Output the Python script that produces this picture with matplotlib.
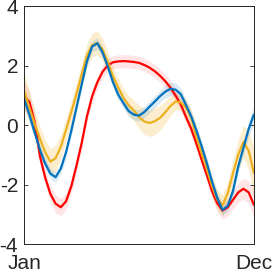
import numpy as np
import matplotlib
matplotlib.use("Agg")
import matplotlib.pyplot as plt

plt.rcParams['font.family'] = ['Liberation Sans', 'DejaVu Sans']
plt.rcParams['axes.unicode_minus'] = False

# month position (Jan = 1 ... Dec = 12), sampled every quarter month
month = [1 + 0.25 * k for k in range(45)]

red = [0.98, 0.78, 0.10, -1.04, -1.75, -2.30, -2.63, -2.75, -2.55, -2.05,
       -1.35, -0.59, 0.30, 0.98, 1.45, 1.80, 2.02, 2.12, 2.15, 2.16,
       2.15, 2.13, 2.10, 2.03, 1.94, 1.82, 1.67, 1.49, 1.27, 1.00,
       0.70, 0.28, -0.12, -0.62, -1.16, -1.68, -2.22, -2.62, -2.86, -2.75,
       -2.50, -2.25, -2.13, -2.25, -2.67]

orange = [1.14, 0.58, 0.05, -0.45, -0.90, -1.22, -1.10, -0.72, -0.15, 0.45,
          1.05, 1.71, 2.35, 2.70, 2.77, 2.55, 2.13, 1.65, 1.27, 0.93,
          0.68, 0.50, 0.28, 0.13, 0.08, 0.14, 0.25, 0.44, 0.65, 0.80,
          0.77, 0.60, 0.25, -0.40, -0.95, -1.48, -2.05, -2.50, -2.68, -2.27,
          -1.60, -0.98, -0.55, -0.85, -1.60]

blue = [0.87, 0.35, -0.25, -0.82, -1.28, -1.62, -1.74, -1.45, -0.90, -0.18,
        0.60, 1.38, 2.15, 2.65, 2.76, 2.45, 1.98, 1.45, 1.03, 0.75,
        0.48, 0.36, 0.33, 0.45, 0.63, 0.80, 0.98, 1.13, 1.23, 1.20,
        1.05, 0.68, 0.30, -0.18, -0.71, -1.28, -1.90, -2.45, -2.84, -2.70,
        -2.20, -1.38, -0.75, -0.12, 0.36]

# half widths of the shaded bands
red_err = [0.50, 0.40, 0.30, 0.25, 0.25, 0.28, 0.30, 0.30, 0.28, 0.25,
           0.22, 0.22, 0.22, 0.22, 0.22, 0.22, 0.22, 0.22, 0.22, 0.22,
           0.22, 0.22, 0.22, 0.22, 0.22, 0.22, 0.22, 0.22, 0.22, 0.22,
           0.22, 0.22, 0.22, 0.22, 0.22, 0.22, 0.25, 0.28, 0.30, 0.30,
           0.30, 0.32, 0.35, 0.38, 0.45]

orange_err = [0.60, 0.50, 0.45, 0.42, 0.42, 0.43, 0.43, 0.40, 0.38, 0.38,
              0.38, 0.38, 0.38, 0.40, 0.40, 0.38, 0.33, 0.30, 0.30, 0.30,
              0.32, 0.35, 0.40, 0.43, 0.45, 0.45, 0.42, 0.38, 0.32, 0.28,
              0.28, 0.28, 0.30, 0.32, 0.32, 0.32, 0.33, 0.35, 0.35, 0.38,
              0.45, 0.50, 0.55, 0.65, 0.90]

blue_err = [0.30, 0.25, 0.20, 0.18, 0.18, 0.18, 0.18, 0.18, 0.18, 0.18,
            0.18, 0.18, 0.18, 0.18, 0.20, 0.20, 0.20, 0.18, 0.18, 0.18,
            0.18, 0.18, 0.20, 0.20, 0.20, 0.20, 0.20, 0.22, 0.22, 0.22,
            0.20, 0.18, 0.18, 0.18, 0.18, 0.18, 0.18, 0.18, 0.18, 0.18,
            0.18, 0.20, 0.22, 0.25, 0.30]

xtick_pos = [1, 12]
xtick_labels = ['Jan', 'Dec']
ytick_pos = [-4, -2, 0, 2, 4]

c_red = '#FF0000'
c_orange = '#EDB120'
c_blue = '#0072BD'

fig = plt.figure(figsize=(2.73, 2.75), dpi=100)
ax = fig.add_axes([0.089, 0.111, 0.841, 0.866])

x = np.array(month)
series = [(red, red_err, c_red, 0.10),
          (orange, orange_err, c_orange, 0.22),
          (blue, blue_err, c_blue, 0.14)]
for y, e, c, a in series:
    y = np.array(y)
    e = np.array(e)
    ax.fill_between(x, y - e, y + e, color=c, alpha=a, linewidth=0)
for y, e, c, a in series:
    ax.plot(x, y, color=c, linewidth=1.6, solid_capstyle='round',
            solid_joinstyle='round')

ax.set_xlim(1, 12)
ax.set_ylim(-4, 4)
ax.set_xticks(xtick_pos)
ax.set_xticklabels(xtick_labels)
ax.set_yticks(ytick_pos)
ax.set_yticklabels([str(v) for v in ytick_pos])
ax.tick_params(direction='in', top=True, right=True, length=3, width=0.6,
               labelsize=15, colors='#262626')
ax.tick_params(axis='y', pad=4.5)
ax.tick_params(axis='x', pad=7)
for s in ax.spines.values():
    s.set_color('#262626')
    s.set_linewidth(0.7)

fig.savefig('out.png', dpi=100)
